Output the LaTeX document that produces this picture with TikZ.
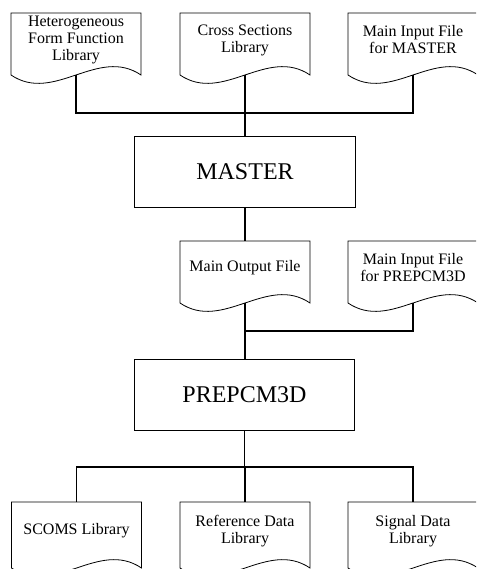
\documentclass[tikz,border=0pt]{standalone}
\usepackage{fontspec}
\setmainfont{Liberation Serif}
\newcommand\docout[1]{\draw[docline] (#1.south west) -- (#1.north west) -- (#1.north east) -- (#1.south east) .. controls ([xshift=-43pt,yshift=29pt]#1.south east) and ([xshift=43pt,yshift=-29pt]#1.south west) .. (#1.south west) -- cycle;}
\begin{document}
\begin{tikzpicture}[x=1pt,y=-1pt,
  doc/.style={minimum width=130pt,minimum height=62pt,inner sep=0pt,outer sep=0pt},
  docb/.style={doc,minimum height=66pt},
  doctext/.style={font=\fontsize{16}{17}\selectfont,align=center,yshift=4pt,inner sep=0pt},
  box/.style={draw,line width=0.9pt,minimum width=221pt,minimum height=71pt,inner sep=0pt,outer sep=0pt,font=\fontsize{24}{28}\selectfont},
  conn/.style={line width=1.4pt},
  docline/.style={line width=0.8pt,line join=miter}]
\useasboundingbox (0,0) rectangle (476,569);
\clip (0,0) rectangle (476,569);
% top documents
\node[doc,label={[doctext]center:{Heterogeneous\\Form Function\\Library}}] (hff) at (76,44) {};
\node[doc,label={[doctext]center:{Cross Sections\\Library}}] (csl) at (245,44) {};
\node[doc,label={[doctext]center:{Main Input File\\for MASTER}}] (mim) at (413,44) {};
\docout{hff}\docout{csl}\docout{mim}
% MASTER
\node[box] (master) at (245,171.5) {MASTER};
\coordinate (j1) at (245,113);
% middle documents
\node[doc,label={[doctext]center:{Main Output File}}] (mo) at (245,272) {};
\node[doc,label={[doctext]center:{Main Input File\\for PREPCM3D}}] (mip) at (413,272) {};
\docout{mo}\docout{mip}
\coordinate (j2) at (245,331);
% PREPCM3D
\node[box,minimum width=220pt] (prep) at (244.5,394.5) {PREPCM3D};
\coordinate (j3) at (245,467);
% bottom documents
\node[docb,label={[doctext]center:{SCOMS Library}}] (scoms) at (76.5,535) {};
\node[docb,label={[doctext]center:{Reference Data\\Library}}] (ref) at (245,535) {};
\node[docb,label={[doctext]center:{Signal Data\\Library}}] (sig) at (413,535) {};
\docout{scoms}\docout{ref}\docout{sig}
% connectors
\draw[conn] (hff.south) -- (hff.south |- j1) -- (mim.south |- j1) -- (mim.south);
\draw[conn] (csl.south) -- (csl.south |- master.north);
\draw[conn] (master.south) -- (mo.north);
\draw[conn] (mo.south) -- (mo.south |- prep.north);
\draw[conn] (mip.south) -- (mip.south |- j2) -- (j2);
\draw[conn] (prep.south) -- (prep.south |- j3);
\draw[conn] (scoms.north) -- (scoms.north |- j3) -- (sig.north |- j3) -- (sig.north);
\draw[conn] (j3) -- (ref.north);
\end{tikzpicture}
\end{document}
